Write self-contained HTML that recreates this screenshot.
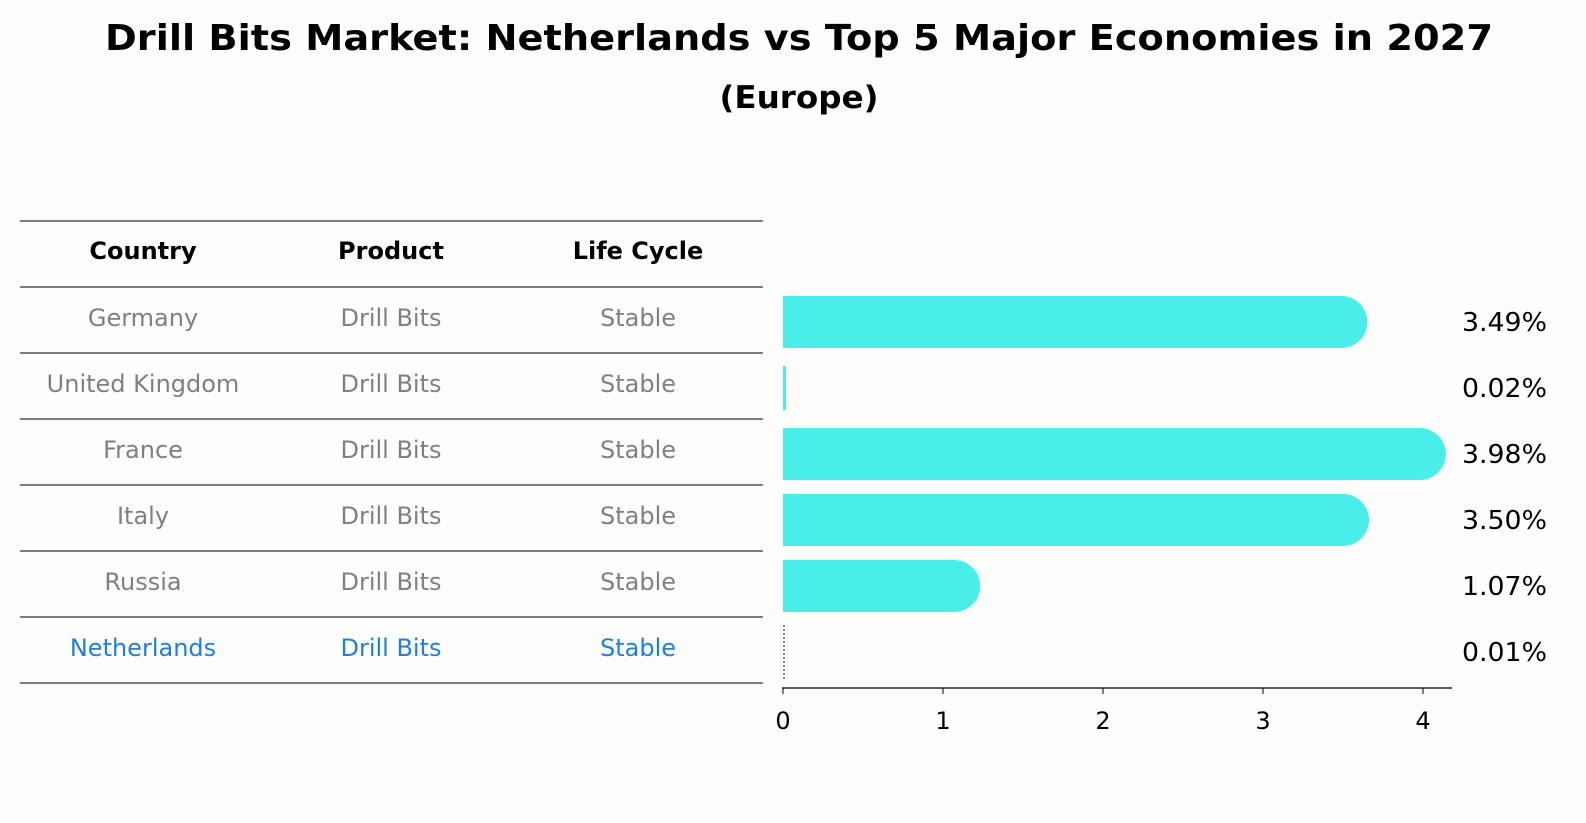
<!DOCTYPE html>
<html><head><meta charset="utf-8"><style>
html,body{margin:0;padding:0;width:1586px;height:823px;overflow:hidden;background:#fdfdfc;font-family:"DejaVu Sans","Liberation Sans",sans-serif;}
svg{display:block;position:absolute;left:0;top:0}
</style></head><body>
<svg width="1586" height="823" viewBox="0 0 1586 823">
<rect width="1586" height="823" fill="#fdfdfc"/>
<text x="799" y="50" text-anchor="middle" font-size="36" font-weight="bold" textLength="1388" lengthAdjust="spacingAndGlyphs" font-family="DejaVu Sans, sans-serif">Drill Bits Market: Netherlands vs Top 5 Major Economies in 2027</text>
<text x="799" y="108" text-anchor="middle" font-size="31" font-weight="bold" textLength="159" lengthAdjust="spacingAndGlyphs" font-family="DejaVu Sans, sans-serif">(Europe)</text>
<g id="table"></g>
<g id="bars"></g>
</svg>
<script>
const countries=["Germany","United Kingdom","France","Italy","Russia","Netherlands"];
const products=["Drill Bits","Drill Bits","Drill Bits","Drill Bits","Drill Bits","Drill Bits"];
const lifecycle=["Stable","Stable","Stable","Stable","Stable","Stable"];
const values=[3.49,0.02,3.98,3.50,1.07,0.01];
const ticks=[0,1,2,3,4];
const NS="http://www.w3.org/2000/svg";
function mk(t,a,p){const e=document.createElementNS(NS,t);for(const k in a)e.setAttribute(k,a[k]);p.appendChild(e);return e;}
const tbl=document.getElementById('table'),bars=document.getElementById('bars');
const rowY=i=>287+i*66;
const x=v=>783+v*160;
const cols=[143,391,638];
const hdr=["Country","Product","Life Cycle"];
hdr.forEach((h,j)=>{const t=mk('text',{x:cols[j],y:259,'text-anchor':'middle','font-size':24,'font-weight':'bold','font-family':'DejaVu Sans, sans-serif'},tbl);t.textContent=h;

});
for(let i=0;i<=countries.length+1;i++){const yy=i==0?221:rowY(i-1);const l=mk('line',{x1:20,x2:763,y1:yy,y2:yy,stroke:'#000','stroke-width':1},tbl);

}
countries.forEach((c,i)=>{const last=i==countries.length-1;const col=last?'#1f7fdc':'#808080';
[c,products[i],lifecycle[i]].forEach((s,j)=>{const t=mk('text',{x:cols[j],y:rowY(i)+39,'text-anchor':'middle','font-size':24,fill:col,'font-family':'DejaVu Sans, sans-serif'},tbl);t.textContent=s;

});
const cy=rowY(i)+35,h=52;
if(last){const l=mk('line',{x1:x(0)+1,x2:x(0)+1,y1:cy-27,y2:cy+27,stroke:'#2a6fb0','stroke-width':1.5,'stroke-dasharray':'2,2'},bars);

}
else{const w=values[i]*160;let d;
if(w<5){d=`M${x(0)},${cy-h/2+4}h3v${h-8}h-3z`;}
else d=`M${x(0)},${cy-h/2}H${x(values[i])}A26,26 0 0 1 ${x(values[i])},${cy+h/2}H${x(0)}Z`;
const p=mk('path',{d:d,fill:'#4aeee9'},bars);

}
const t=mk('text',{x:1462,y:cy+9,'font-size':26,textLength:85,lengthAdjust:'spacingAndGlyphs','font-family':'DejaVu Sans, sans-serif'},bars);t.textContent=values[i].toFixed(2)+'%';


});
const ax=mk('line',{x1:782,x2:1452,y1:688,y2:688,stroke:'#000','stroke-width':1.3},bars);


ticks.forEach(v=>{const tk=mk('line',{x1:x(v),x2:x(v),y1:688,y2:694,stroke:'#000'},bars);


const t=mk('text',{x:x(v),y:729,'text-anchor':'middle','font-size':24,'font-family':'DejaVu Sans, sans-serif'},bars);t.textContent=v;

});
</script>
</body></html>
